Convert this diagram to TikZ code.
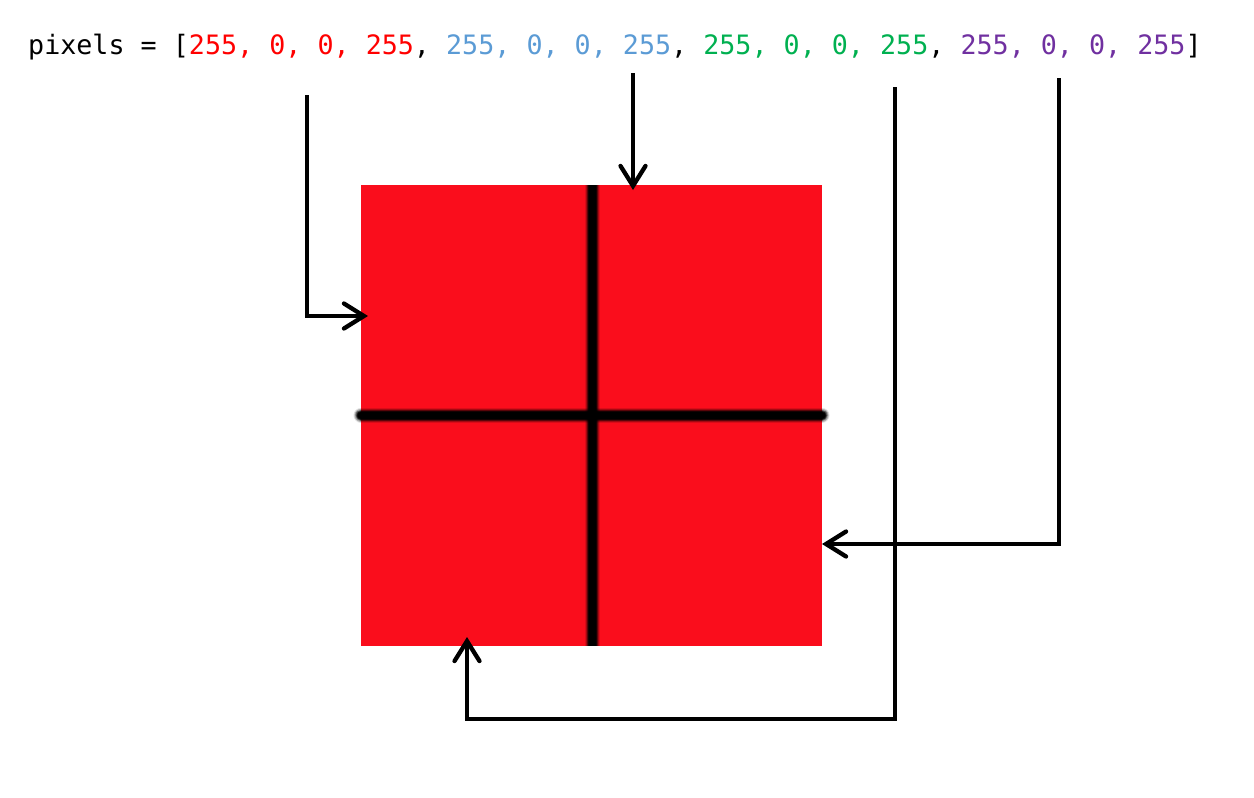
\documentclass[tikz,border=0pt]{standalone}
\usepackage{fontspec}
\setmonofont{DejaVu Sans Mono}
\usetikzlibrary{arrows.meta}
\definecolor{sqred}{RGB}{250,13,28}
\definecolor{tred}{RGB}{255,0,0}
\definecolor{tblue}{RGB}{91,155,213}
\definecolor{tgreen}{RGB}{0,176,80}
\definecolor{tpurple}{RGB}{112,48,160}
\tikzset{
  ptr/.style={line width=4.3pt, -{Straight Barb[length=20pt,width=25pt,line cap=round]}, line join=miter},
}
\begin{document}
\begin{tikzpicture}[x=1pt,y=-1pt]
\useasboundingbox (0,0) rectangle (1254,798);
% text
\node[anchor=base west, inner sep=0pt, font=\ttfamily\fontsize{26.7}{30}\selectfont] (txt) at (28,54)
 {pixels = [\textcolor{tred}{255, 0, 0, 255}, \textcolor{tblue}{255, 0, 0, 255}, \textcolor{tgreen}{255, 0, 0, 255}, \textcolor{tpurple}{255, 0, 0, 255}]};
% square
\node[fill=sqred, minimum width=461pt, minimum height=461pt, inner sep=0pt, draw=none] (sq) at (591.5,415.5) {};
% blurred cross
\foreach \w/\o in {15pt/0.12, 13pt/0.25, 11pt/0.45, 9pt/0.75, 7pt/1} {
  \draw[black, opacity=\o, line width=\w] (592,185) -- (592,646);
  \draw[black, opacity=\o, line width=\w, line cap=round] (361,415) -- (822,415);
}
% arrow anchors
\coordinate (s1) at (307,95);
\coordinate (s2) at (633,73);
\coordinate (s3) at (1059,78);
\coordinate (s4) at (895,87);
\coordinate (t1) at (368,316);
\coordinate (t2) at (633,190);
\coordinate (t3) at (822,544);
\coordinate (t4) at (467,637);
\draw[ptr] (s1) |- (t1);
\draw[ptr] (s2) -- (t2);
\draw[ptr] (s3) |- (t3);
\draw[ptr] (s4) -- (895,719) -| (t4);
\end{tikzpicture}
\end{document}
